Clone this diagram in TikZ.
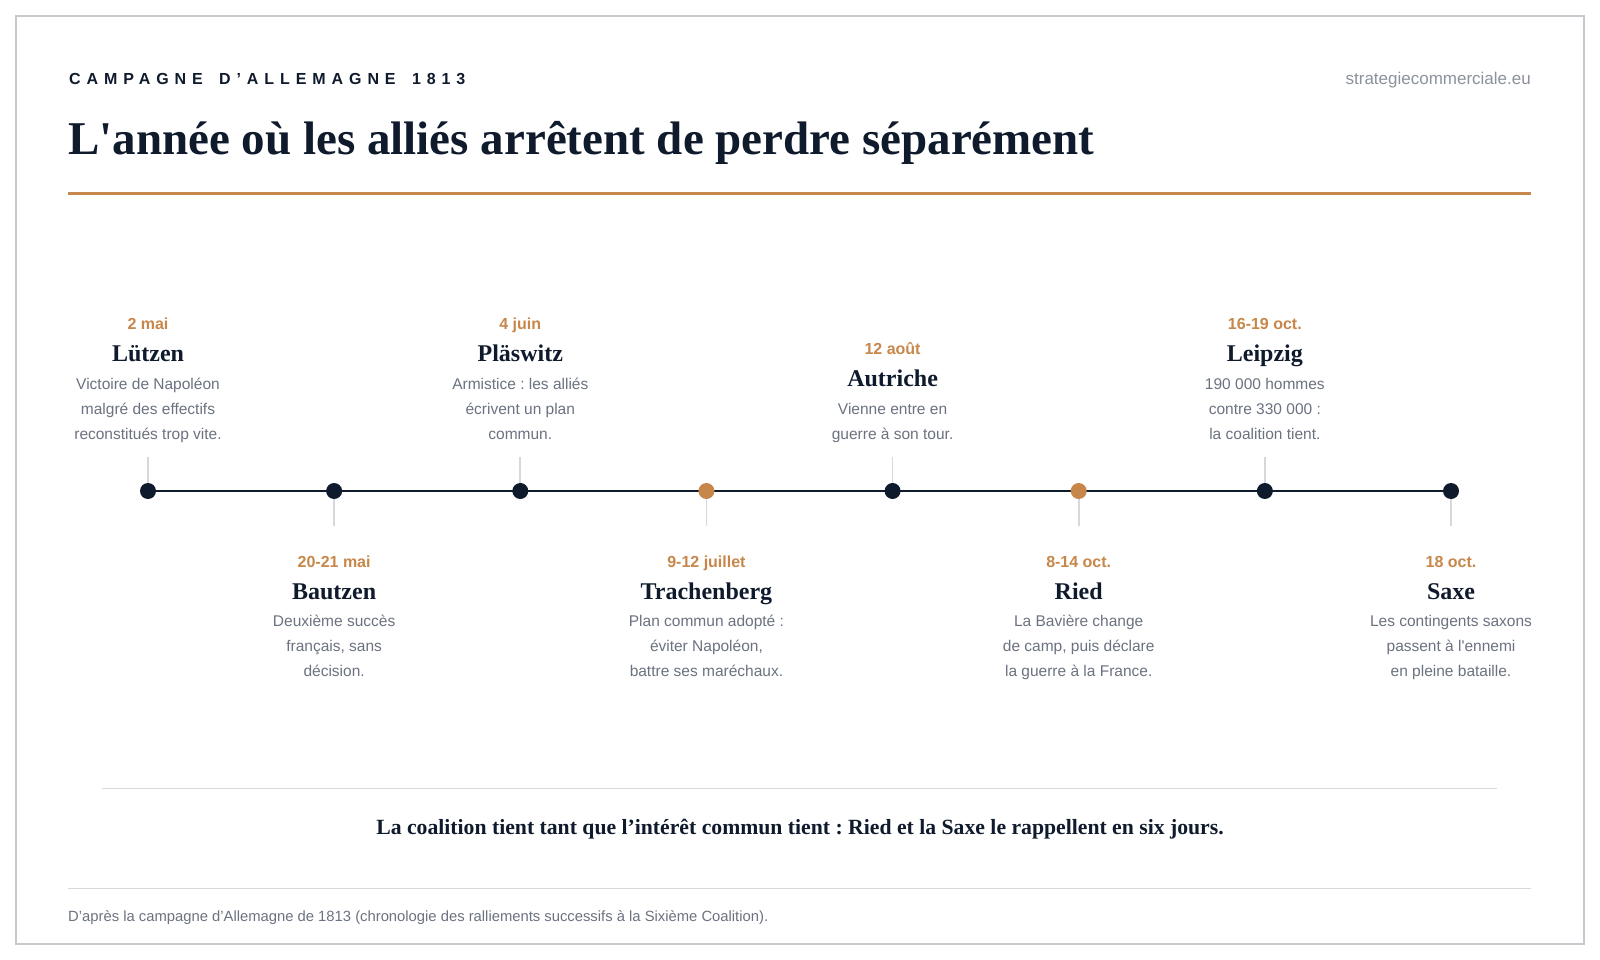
\documentclass[tikz,border=0pt]{standalone}
\usepackage{fontspec}
\setmainfont{Liberation Serif}[Ligatures=TeXOff]
\newfontfamily\sansf{Liberation Sans}[Ligatures=TeXOff]
\newfontfamily\sansls{Liberation Sans}[Ligatures=TeXOff,LetterSpace=37]
\definecolor{navy}{HTML}{0F1B2D}
\definecolor{ochre}{HTML}{C8874A}
\definecolor{descgray}{HTML}{6B7280}
\definecolor{rulegray}{HTML}{D5D8DC}
\definecolor{framegray}{HTML}{C6CACF}
\definecolor{urlgray}{HTML}{8B929C}
\frenchspacing
\tikzset{
 txt/.style={inner sep=0pt, anchor=base},
 datelbl/.style={txt, font=\sansf\bfseries\fontsize{16}{19}\selectfont, text=ochre},
 namelbl/.style={txt, font=\bfseries\fontsize{24}{28}\selectfont, text=navy},
 desclbl/.style={txt, font=\sansf\fontsize{15.5}{19}\selectfont, text=descgray},
 dotnavy/.style={circle, fill=navy, minimum size=16pt, inner sep=0pt},
 dotochre/.style={circle, fill=ochre, minimum size=16pt, inner sep=0pt},
 tickline/.style={draw=rulegray, line width=1.8pt},
 thinrule/.style={draw=rulegray, line width=1.5pt},
}
\begin{document}
\begin{tikzpicture}[x=1pt,y=-1pt]
\useasboundingbox (0,0) rectangle (1600,960);
\fill[white] (0,0) rectangle (1600,960);
\draw[framegray, line width=2pt] (16,16) rectangle (1584,944);
% header
\node[txt, anchor=base west, font=\sansls\bfseries\fontsize{16}{19}\selectfont, text=navy] (kicker) at (69,85) {CAMPAGNE \hspace{6pt}D’ALLEMAGNE \hspace{6pt}1813};
\node[txt, anchor=base east, font=\sansf\fontsize{17}{20}\selectfont, text=urlgray] (site) at (1531,85) {strategiecommerciale.eu};
\node[txt, anchor=base west, font=\bfseries\fontsize{47}{52}\selectfont, text=navy] (title) at (68,155) {L'année où les alliés arrêtent de perdre séparément};
\draw[ochre, line width=3pt] (68,193.5) -- (1531,193.5);
% timeline coordinates
\coordinate (p1) at (148,491);
\coordinate (p2) at (334.14,491);
\coordinate (p3) at (520.29,491);
\coordinate (p4) at (706.43,491);
\coordinate (p5) at (892.57,491);
\coordinate (p6) at (1078.71,491);
\coordinate (p7) at (1264.86,491);
\coordinate (p8) at (1451,491);
\coordinate (t1) at (148,456.7);
\coordinate (t2) at (334.14,525.7);
\coordinate (t3) at (520.29,456.7);
\coordinate (t4) at (706.43,525.7);
\coordinate (t5) at (892.57,456.7);
\coordinate (t6) at (1078.71,525.7);
\coordinate (t7) at (1264.86,456.7);
\coordinate (t8) at (1451,525.7);
\foreach \i in {1,...,8} {\draw[tickline] (p\i) -- (t\i);}
\draw[navy, line width=2pt] (p1) -- (p8);
\node[dotnavy] (d1) at (p1) {};
\node[dotnavy] (d2) at (p2) {};
\node[dotnavy] (d3) at (p3) {};
\node[dotochre] (d4) at (p4) {};
\node[dotnavy] (d5) at (p5) {};
\node[dotochre] (d6) at (p6) {};
\node[dotnavy] (d7) at (p7) {};
\node[dotnavy] (d8) at (p8) {};
% event 1 (top)
\node[datelbl] (e1date) at (148,329.3) {2 mai};
\node[namelbl] (e1name) at (148,361.7) {Lützen};
\node[desclbl] (e1a) at (148,389) {Victoire de Napoléon};
\node[desclbl] (e1b) at (148,414) {malgré des effectifs};
\node[desclbl] (e1c) at (148,439) {reconstitués trop vite.};
% event 2 (bottom)
\node[datelbl] (e2date) at (334.14,567.3) {20-21 mai};
\node[namelbl] (e2name) at (334.14,599) {Bautzen};
\node[desclbl] (e2a) at (334.14,626.7) {Deuxième succès};
\node[desclbl] (e2b) at (334.14,651.7) {français, sans};
\node[desclbl] (e2c) at (334.14,676.7) {décision.};
% event 3 (top)
\node[datelbl] (e3date) at (520.29,329.3) {4 juin};
\node[namelbl] (e3name) at (520.29,361.7) {Pläswitz};
\node[desclbl] (e3a) at (520.29,389) {Armistice : les alliés};
\node[desclbl] (e3b) at (520.29,414) {écrivent un plan};
\node[desclbl] (e3c) at (520.29,439) {commun.};
% event 4 (bottom)
\node[datelbl] (e4date) at (706.43,567.3) {9-12 juillet};
\node[namelbl] (e4name) at (706.43,599) {Trachenberg};
\node[desclbl] (e4a) at (706.43,626.7) {Plan commun adopté :};
\node[desclbl] (e4b) at (706.43,651.7) {éviter Napoléon,};
\node[desclbl] (e4c) at (706.43,676.7) {battre ses maréchaux.};
% event 5 (top)
\node[datelbl] (e5date) at (892.57,354.3) {12 août};
\node[namelbl] (e5name) at (892.57,386.7) {Autriche};
\node[desclbl] (e5a) at (892.57,414) {Vienne entre en};
\node[desclbl] (e5b) at (892.57,439) {guerre à son tour.};
% event 6 (bottom)
\node[datelbl] (e6date) at (1078.71,567.3) {8-14 oct.};
\node[namelbl] (e6name) at (1078.71,599) {Ried};
\node[desclbl] (e6a) at (1078.71,626.7) {La Bavière change};
\node[desclbl] (e6b) at (1078.71,651.7) {de camp, puis déclare};
\node[desclbl] (e6c) at (1078.71,676.7) {la guerre à la France.};
% event 7 (top)
\node[datelbl] (e7date) at (1264.86,329.3) {16-19 oct.};
\node[namelbl] (e7name) at (1264.86,361.7) {Leipzig};
\node[desclbl] (e7a) at (1264.86,389) {190 000 hommes};
\node[desclbl] (e7b) at (1264.86,414) {contre 330 000 :};
\node[desclbl] (e7c) at (1264.86,439) {la coalition tient.};
% event 8 (bottom)
\node[datelbl] (e8date) at (1451,567.3) {18 oct.};
\node[namelbl] (e8name) at (1451,599) {Saxe};
\node[desclbl] (e8a) at (1451,626.7) {Les contingents saxons};
\node[desclbl] (e8b) at (1451,651.7) {passent à l'ennemi};
\node[desclbl] (e8c) at (1451,676.7) {en pleine bataille.};
% conclusion
\draw[thinrule] (102,788.3) -- (1497,788.3);
\node[txt, font=\bfseries\fontsize{21.7}{26}\selectfont, text=navy] (concl) at (800,834) {La coalition tient tant que l’intérêt commun tient : Ried et la Saxe le rappellent en six jours.};
\draw[thinrule] (68,888.3) -- (1531,888.3);
\node[txt, anchor=base west, font=\sansf\fontsize{14.8}{17}\selectfont, text=descgray] (source) at (68,921) {D’après la campagne d’Allemagne de 1813 (chronologie des ralliements successifs à la Sixième Coalition).};
\end{tikzpicture}
\end{document}
